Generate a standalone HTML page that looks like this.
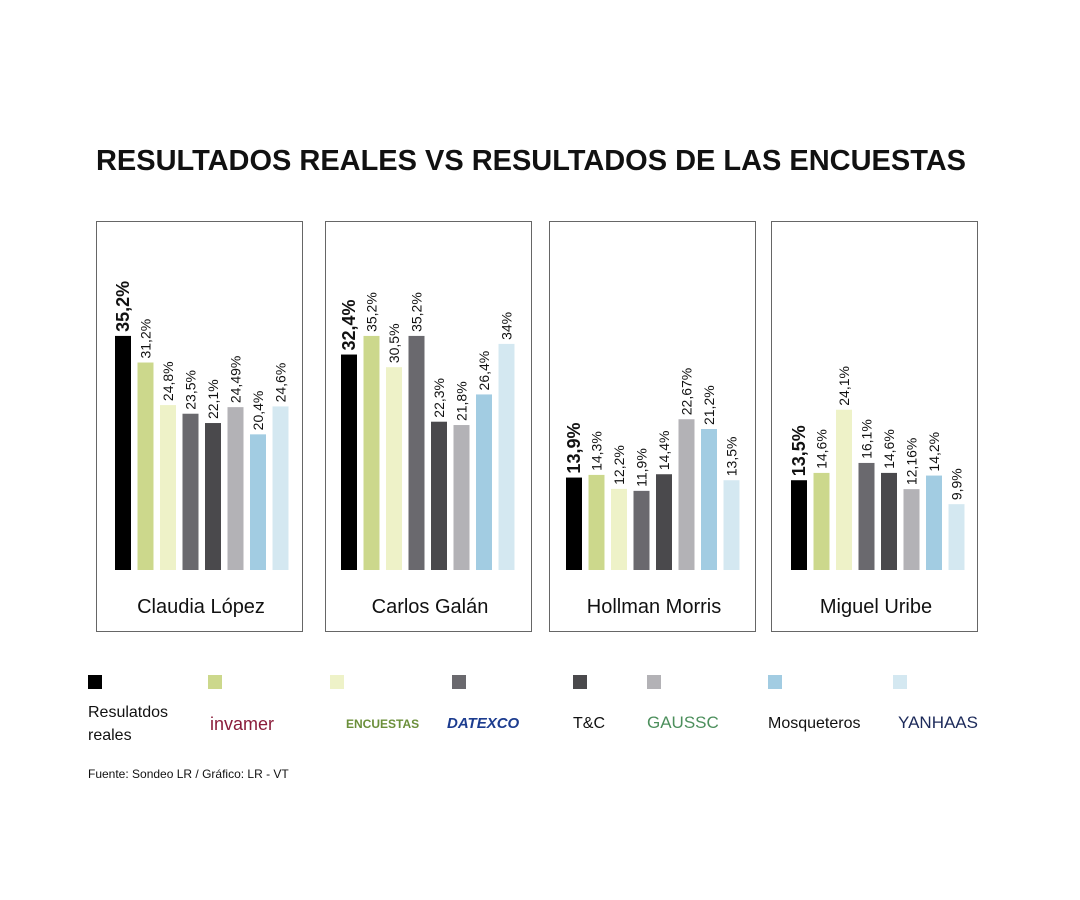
<!DOCTYPE html>
<html><head><meta charset="utf-8"><style>
body{margin:0;background:#fff;font-family:"Liberation Sans",sans-serif}
svg{display:block}
</style></head><body>
<svg id="c" width="1080" height="900" viewBox="0 0 1080 900">
<text x="531" y="170" text-anchor="middle" font-size="29" font-weight="bold" textLength="870" lengthAdjust="spacingAndGlyphs" fill="#111">RESULTADOS REALES VS RESULTADOS DE LAS ENCUESTAS</text>
<g id="panels"></g>
<g id="legend"></g>
<text x="88" y="778" font-size="12" fill="#111">Fuente: Sondeo LR  /  Gráfico: LR - VT</text>
</svg>
<script>
const candidates=["Claudia López","Carlos Galán","Hollman Morris","Miguel Uribe"];
const realResults=[35.2,32.4,13.9,13.5];
const invamer=[31.2,35.2,14.3,14.6];
const encuestas=[24.8,30.5,12.2,24.1];
const datexco=[23.5,35.2,11.9,16.1];
const tyc=[22.1,22.3,14.4,14.6];
const gaussc=[24.49,21.8,22.67,12.16];
const mosqueteros=[20.4,26.4,21.2,14.2];
const yanhaas=[24.6,34,13.5,9.9];
const labels=[
 ["35,2%","31,2%","24,8%","23,5%","22,1%","24,49%","20,4%","24,6%"],
 ["32,4%","35,2%","30,5%","35,2%","22,3%","21,8%","26,4%","34%"],
 ["13,9%","14,3%","12,2%","11,9%","14,4%","22,67%","21,2%","13,5%"],
 ["13,5%","14,6%","24,1%","16,1%","14,6%","12,16%","14,2%","9,9%"]];
const series=[realResults,invamer,encuestas,datexco,tyc,gaussc,mosqueteros,yanhaas];
const seriesNames=["resultados-reales","invamer","encuestas","datexco","tyc","gaussc","mosqueteros","yanhaas"];
const colors=["#000","#ccd88c","#eef2c8","#6a696e","#4a494c","#b3b2b6","#a2cce2","#d4e8f1"];
const NS="http://www.w3.org/2000/svg";
const panelX=[96,325,549,771],panelW=206,panelTop=221,panelH=410;
const firstBar=[115,341,566,791];
const base=570,scale=6.65,bw=16,step=22.5;
const y=v=>base-v*scale;
function mk(t,a,p){const e=document.createElementNS(NS,t);for(const k in a)e.setAttribute(k,a[k]);p.appendChild(e);return e;}
const P=document.getElementById('panels');
candidates.forEach((c,i)=>{
 const g=mk('g',{},P);
 
 
 const r=mk('rect',{x:panelX[i]+.5,y:panelTop+.5,width:panelW,height:panelH,fill:'none',stroke:'#666','stroke-width':1},g);
 
 
 series.forEach((s,j)=>{
  const x=firstBar[i]+j*step,top=y(s[i]);
  const b=mk('rect',{x:x,y:top,width:bw,height:base-top,fill:colors[j]},g);
  
  
  const lx=x+bw/2+ (j==0?6:5), ly=top-4;
  const t=mk('text',{x:lx,y:ly,transform:`rotate(-90 ${lx} ${ly})`,'font-size':j==0?18:14,'font-weight':j==0?'bold':'normal',fill:'#111'},g);
  t.textContent=labels[i][j];
  
  
 });
 const n=mk('text',{x:panelX[i]+panelW/2+2,y:613,'text-anchor':'middle','font-size':20,fill:'#111'},g);
 n.textContent=c;
 
 
});
const L=document.getElementById('legend');
const legX=[88,208,330,452,573,647,768,893];
const legText=[null,"invamer","ENCUESTAS","DATEXCO","T&C","GAUSSC","Mosqueteros","YANHAAS"];
const legColor=["#111","#8a1c3a","#6b8f3a","#1c3c8f","#111","#4c8f5c","#111","#1c2a5a"];
const legSize=[16,18,12,15,16,17,16,17];
legX.forEach((x,j)=>{
 const s=mk('rect',{x:x,y:675,width:14,height:14,fill:colors[j]},L);
 
 
});
const t0=mk('text',{x:88,y:717,'font-size':16,fill:'#111'},L);
t0.textContent="Resulatdos";


const t1=mk('text',{x:88,y:740,'font-size':16,fill:'#111'},L);
t1.textContent="reales";


legText.forEach((tx,j)=>{
 if(!tx)return;
 const x=[0,210,346,447,573,647,768,898][j];
 const t=mk('text',{x:x,y:j==1?730:728,'font-size':legSize[j],fill:legColor[j],'font-weight':(j==3||j==2)?'bold':'normal','font-style':j==3?'italic':'normal'},L);
 t.textContent=tx;
 
 
});
</script>
</body></html>
